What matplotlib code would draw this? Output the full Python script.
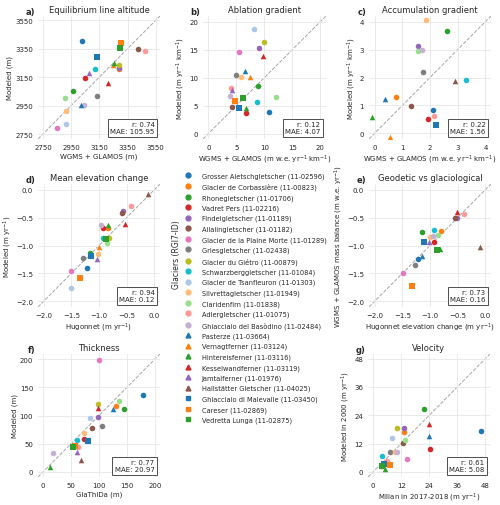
import numpy as np
import matplotlib
matplotlib.use("Agg")
import matplotlib.pyplot as plt
import seaborn as sns
from matplotlib.lines import Line2D

sns.set_style("whitegrid")
plt.rcParams['font.family'] = ['DejaVu Sans']

nan = np.nan

# Glaciers and their legend style
glaciers = [
    "Grosser Aletschgletscher (11-02596)", "Glacier de Corbassière (11-00823)",
    "Rhonegletscher (11-01706)", "Vadret Pers (11-02216)",
    "Findelgletscher (11-01189)", "Allalingletscher (11-01182)",
    "Glacier de la Plaine Morte (11-01289)", "Griesgletscher (11-02438)",
    "Glacier du Giétro (11-00879)", "Schwarzberggletscher (11-01084)",
    "Glacier de Tsanfleuron (11-01303)", "Silvrettagletscher (11-01949)",
    "Claridenfirn (11-01838)", "Adlergletscher (11-01075)",
    "Ghiacciaio del Basòdino (11-02484)", "Pasterze (11-03664)",
    "Vernagtferner (11-03124)", "Hintereisferner (11-03116)",
    "Kesselwandferner (11-03119)", "Jamtalferner (11-01976)",
    "Hallstätter Gletscher (11-04025)", "Ghiacciaio di Malevalle (11-03450)",
    "Careser (11-02869)", "Vedretta Lunga (11-02875)",
]

# a) equilibrium line altitude
ela_obs = [3030, 3286, 2964, 3049, 3291, 3421, 2849, 3136, 3289, 3122, 2912, 2910,
           2903, 3475, 3039, 3023, 3244, 3256, 3209, 3075, nan, 3136, 3305, 3294]
ela_mod = [3402, 3209, 3056, 3145, 3214, 3345, 2795, 3016, 3235, 3209, 2818, 2910,
           3006, 3336, 2952, 2957, 3235, 3251, 3108, 3181, nan, 3289, 3392, 3352]

# b) ablation gradient
abl_obs = [10.8, 4.5, 8.8, 6.8, 9.1, 4.2, 5.5, 5.0, 10.0, 8.6, 8.2, 5.9,
           12.1, 4.0, 3.9, 6.6, 7.5, 6.8, 9.8, 4.2, nan, 5.5, 4.8, 6.2]
abl_mod = [3.9, 5.8, 8.5, 3.7, 15.3, 4.8, 14.5, 10.4, 16.3, 5.6, 18.6, 10.1,
           6.6, 8.1, 6.7, 11.1, 10.1, 4.5, 13.9, 7.8, nan, 4.6, 5.8, 6.3]

# c) accumulation gradient
acc_obs = [2.10, 0.76, 2.63, 1.93, 1.58, 1.32, nan, 1.75, nan, 3.30, nan, 1.86,
           1.56, 2.13, 1.71, 0.36, 0.57, -0.10, nan, nan, 2.89, 2.23, nan, nan]
acc_mod = [0.83, 1.30, 3.67, 0.53, 3.11, 0.97, nan, 2.19, nan, 1.92, nan, 4.05,
           2.95, 0.63, 3.00, 1.23, -0.13, 0.58, nan, nan, 1.89, 0.30, nan, nan]

# d) mean elevation change
dh_obs = [-1.22, -0.83, -1.16, -0.93, -0.56, -0.58, -1.50, -1.28, -0.82, -0.93, -1.50, -1.02,
          -0.86, -0.42, -0.96, -1.14, -1.00, -0.83, -0.54, -1.04, -0.11, -1.14, -1.34, -0.88]
dh_mod = [-1.40, -0.69, -1.14, -0.69, -0.38, -0.41, -1.45, -1.22, -0.86, -0.86, -1.76, -1.15,
          -0.96, -0.30, -0.63, -1.17, -1.03, -0.64, -0.62, -1.25, -0.08, -1.18, -1.58, -0.88]

# e) geodetic vs glaciological
geo_x = [-1.21, -0.81, -1.15, -0.93, -0.52, -0.55, -1.48, -1.27, nan, -0.92, nan, -1.00,
         -0.86, -0.39, -0.95, -1.14, nan, -0.82, -0.52, -1.02, -0.09, -1.11, -1.33, -0.87]
geo_y = [-1.24, -0.74, -0.76, -0.93, -0.50, -0.50, -1.50, -1.34, nan, -0.73, nan, -0.85,
         -0.82, -0.43, -0.83, -1.18, nan, -1.07, -0.40, -0.94, -1.03, -0.93, -1.73, -1.08]

# f) thickness
thk_obs = [179, 130, 145, 74, 99, 87, 100, 105, 98, 61, 84, 74,
           136, 63, 17, 125, nan, 12, 99, 61, 67, 81, 57, 54]
thk_mod = [136, 117, 112, 59, 98, 78, 198, 82, 121, 57, 96, 69,
           125, 45, 34, 111, nan, 9, 114, 36, 21, 55, 46, 45]

# g) velocity
vel_obs = [46.3, 13.4, 21.8, 24.5, 13.1, 12.8, 14.7, 7.4, 10.0, 3.6, 7.9, 9.5,
           13.7, 5.9, 10.1, 23.7, 4.3, 5.1, 24.0, 4.0, nan, 4.6, 7.1, 3.9]
vel_mod = [17.2, 17.1, 26.8, 9.5, 18.6, 12.3, 5.5, 8.6, 18.6, 6.8, 14.4, 8.5,
           13.4, 4.5, 8.6, 15.0, 2.4, 1.4, 20.2, 2.8, nan, 3.5, 2.7, 2.5]

tab10 = plt.get_cmap("tab10").colors
tab20 = plt.get_cmap("tab20").colors
colors = list(tab10) + [tab20[i] for i in (1, 3, 5, 7, 9)] + list(tab10[:6]) + list(tab10[:3])
markers = ["o"] * 15 + ["^"] * 6 + ["s"] * 3

fig = plt.figure(figsize=(5, 5.06), dpi=100)
W, H = 500, 506


def add_ax(x0, y0, x1, y1):
    return fig.add_axes([x0 / W, 1 - y1 / H, (x1 - x0) / W, (y1 - y0) / H])


panels = [
    ("a)", "Equilibrium line altitude", ela_obs, ela_mod, (2715, 3580), [2750, 2950, 3150, 3350, 3550],
     "WGMS + GLAMOS (m)", "Modeled (m)", "r: 0.74\nMAE: 105.95", (38, 17, 160, 140)),
    ("b)", "Ablation gradient", abl_obs, abl_mod, (-0.95, 21), [0, 5, 10, 15, 20],
     "WGMS + GLAMOS (m w.e. yr$^{-1}$ km$^{-1}$)", "Modeled (m yr$^{-1}$ km$^{-1}$)",
     "r: 0.12\nMAE: 4.07", (203, 17, 326, 140)),
    ("c)", "Accumulation gradient", acc_obs, acc_mod, (-0.2, 4.2), [0, 1, 2, 3, 4],
     "WGMS + GLAMOS (m w.e. yr$^{-1}$ km$^{-1}$)", "Modeled (m yr$^{-1}$ km$^{-1}$)",
     "r: 0.22\nMAE: 1.56", (369, 17, 491, 140)),
    ("d)", "Mean elevation change", dh_obs, dh_mod, (-2.1, 0.1), [-2.0, -1.5, -1.0, -0.5, 0.0],
     "Hugonnet (m yr$^{-1}$)", "Modeled (m yr$^{-1}$)", "r: 0.94\nMAE: 0.12", (38, 185, 160, 308)),
    ("e)", "Geodetic vs glaciological", geo_x, geo_y, (-2.1, 0.1), [-2.0, -1.5, -1.0, -0.5, 0.0],
     "Hugonnet elevation change (m yr$^{-1}$)", "WGMS + GLAMOS mass balance (m w.e. yr$^{-1}$)",
     "r: 0.73\nMAE: 0.16", (369, 185, 491, 308)),
    ("f)", "Thickness", thk_obs, thk_mod, (-9, 209), [0, 50, 100, 150, 200],
     "GlaThiDa (m)", "Modeled (m)", "r: 0.77\nMAE: 20.97", (38, 355, 160, 478)),
    ("g)", "Velocity", vel_obs, vel_mod, (-2.2, 50), [0, 12, 24, 36, 48],
     "Millan in 2017-2018 (m yr$^{-1}$)", "Modeled in 2000 (m yr$^{-1}$)",
     "r: 0.61\nMAE: 5.08", (368, 355, 490, 478)),
]

fs = 5
for letter, title, xs, ys, lims, ticks, xl, yl, stats, box in panels:
    ax = add_ax(*box)
    ax.plot(lims, lims, "--", color="0.65", lw=0.7, zorder=0)
    for i in range(len(glaciers)):
        ax.scatter(xs[i], ys[i], color=colors[i], marker=markers[i], s=16, lw=0, zorder=3)
    ax.set_xlim(lims)
    ax.set_ylim(lims)
    ax.set_xticks(ticks)
    ax.set_yticks(ticks)
    ax.tick_params(labelsize=fs, length=0, pad=3.5)
    for sp in ax.spines.values():
        sp.set_visible(False)
    ax.grid(color="0.9", lw=0.6)
    ax.set_xlabel(xl, fontsize=fs, labelpad=2)
    ax.set_ylabel(yl, fontsize=fs, labelpad=1.5)
    ax.set_title(title, fontsize=6, pad=3)
    ax.text(-0.02, 1.0, letter, transform=ax.transAxes, fontsize=6, fontweight="bold",
            ha="right", va="bottom")
    ax.text(0.955, 0.04, stats, transform=ax.transAxes, fontsize=fs, ha="right", va="bottom",
            bbox=dict(boxstyle="square,pad=0.35", fc="white", ec="0.3", lw=0.7), zorder=5)

handles = [Line2D([], [], ls="", marker=markers[i], color=colors[i], markersize=3.5)
           for i in range(len(glaciers))]
fig.legend(handles, glaciers, loc="upper left", bbox_to_anchor=(185 / W, 1 - 173 / H),
           frameon=False, fontsize=4.8, labelspacing=0.6, handlelength=1.0,
           handletextpad=1.5, borderaxespad=0, borderpad=0)
fig.text(176 / W, 1 - 255 / H, "Glaciers (RGI7-ID)", rotation=90, fontsize=5.5,
         ha="center", va="center")

fig.savefig("out.png", dpi=100)
